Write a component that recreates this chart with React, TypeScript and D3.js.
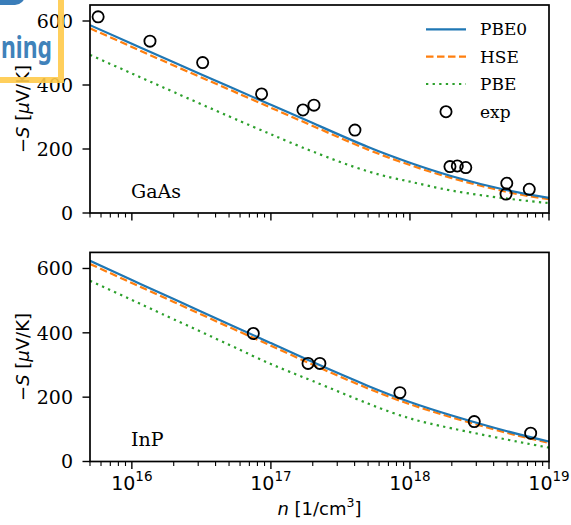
import React from 'react';
import * as d3 from 'd3';

// ---- data ----
const nGrid = [5e15, 1e16, 2e16, 5e16, 1e17, 2e17, 5e17, 1e18, 2e18, 5e18, 1e19];
const gaasPBE0 = [587, 529, 471, 395, 338, 281, 206, 157, 115, 71, 47];
const gaasHSE = [577, 519, 461, 386, 329, 272, 198, 150, 109, 66, 43];
const gaasPBE = [494, 436, 378, 302, 246, 192, 130, 98, 70, 45, 31];
const gaasExpN = [5.72e15, 1.35e16, 3.23e16, 8.57e16, 1.7e17, 2.04e17, 4.02e17, 1.94e18, 2.19e18, 2.52e18, 4.97e18, 4.91e18, 7.21e18];
const gaasExpS = [613, 537, 470, 372, 322, 337, 259, 145, 147, 142, 93, 59, 74];

const inpPBE0 = [624, 564, 505, 427, 368, 309, 235, 185, 143, 94, 62];
const inpHSE = [614, 555, 496, 418, 360, 301, 227, 178, 137, 89, 58];
const inpPBE = [562, 502, 442, 363, 303, 250, 180, 134, 103, 68, 43];
const inpExpN = [7.47e16, 1.85e17, 2.25e17, 8.47e17, 2.9e18, 7.38e18];
const inpExpS = [398, 305, 305, 214, 124, 88];

const yTicks = [0, 200, 400, 600];
const xMajor = [1e16, 1e17, 1e18, 1e19];
const xExponents = ['16', '17', '18', '19'];
const legendLabels = ['PBE0', 'HSE', 'PBE', 'exp'];

const C_BLUE = '#1f77b4';
const C_ORANGE = '#ff7f0e';
const C_GREEN = '#2ca02c';

const X0 = 90;
const X1 = 549;
const x = d3.scaleLog().domain([5e15, 1e19]).range([X0, X1]);

const minorTicks: number[] = [];
for (let e = 15; e <= 18; e++) {
  for (let m = 2; m <= 9; m++) {
    const v = m * Math.pow(10, e);
    if (v >= 5e15 && v <= 1e19) minorTicks.push(v);
  }
}

const serif = "'DejaVu Serif', serif";
const sans = "'DejaVu Sans', sans-serif";

type PanelProps = {
  id: string;
  top: number;
  bottom: number;
  pbe0: number[];
  hse: number[];
  pbe: number[];
  expN: number[];
  expS: number[];
  label: string;
  labelY: number;
  showXLabels: boolean;
  showLegend: boolean;
};

function Panel(p: PanelProps) {
  const y = d3.scaleLinear().domain([0, 650]).range([p.bottom, p.top]);
  const line = (vals: number[]) =>
    d3
      .line<number>()
      .x((_, i) => x(nGrid[i]))
      .y((v) => y(v))
      .curve(d3.curveNatural)(vals) || '';
  const clip = `clip-${p.id}`;
  const mid = (p.top + p.bottom) / 2;
  return (
    <g>
      <defs>
        <clipPath id={clip}>
          <rect x={X0} y={p.top} width={X1 - X0} height={p.bottom - p.top} />
        </clipPath>
      </defs>
      <g clipPath={`url(#${clip})`}>
        <path d={line(p.pbe)} fill="none" stroke={C_GREEN} strokeWidth={2.2} strokeDasharray="2.3,4.3" />
        <path d={line(p.hse)} fill="none" stroke={C_ORANGE} strokeWidth={2.2} strokeDasharray="7.5,3.5" />
        <path d={line(p.pbe0)} fill="none" stroke={C_BLUE} strokeWidth={2.2} />
      </g>
      {p.expN.map((n, i) => (
        <circle key={i} cx={x(n)} cy={y(p.expS[i])} r={5.6} fill="none" stroke="#000" strokeWidth={1.8} />
      ))}
      <rect x={X0} y={p.top} width={X1 - X0} height={p.bottom - p.top} fill="none" stroke="#000" strokeWidth={1.7} />
      {yTicks.map((t) => (
        <g key={t}>
          <line x1={X0 - 7.5} x2={X0} y1={y(t)} y2={y(t)} stroke="#000" strokeWidth={1.4} />
          <text x={73} y={y(t)} dy="0.36em" textAnchor="end" fontFamily={serif} fontSize={19}>
            {t}
          </text>
        </g>
      ))}
      {xMajor.map((t, i) => (
        <g key={t}>
          <line x1={x(t)} x2={x(t)} y1={p.bottom} y2={p.bottom + 7.5} stroke="#000" strokeWidth={1.4} />
          {p.showXLabels && (
            <text x={x(t)} y={490} textAnchor="middle" fontFamily={sans} fontSize={19}>
              10
              <tspan dy={-9} fontSize={13.5}>
                {xExponents[i]}
              </tspan>
            </text>
          )}
        </g>
      ))}
      {minorTicks.map((t) => (
        <line key={t} x1={x(t)} x2={x(t)} y1={p.bottom} y2={p.bottom + 4.5} stroke="#000" strokeWidth={1.1} />
      ))}
      <text x={131} y={p.labelY} fontFamily={serif} fontSize={19}>
        {p.label}
      </text>
      <text
        transform={`translate(29,${mid}) rotate(-90)`}
        textAnchor="middle"
        fontFamily={sans}
        fontSize={18}
      >
        −<tspan fontStyle="italic">S</tspan> [<tspan fontStyle="italic">μ</tspan>V/K]
      </text>
      {p.showLegend && (
        <g>
          {[29.3, 56.7, 84, 111.7].map((ly, i) => (
            <g key={i}>
              {i === 0 && <line x1={426} x2={466} y1={ly} y2={ly} stroke={C_BLUE} strokeWidth={2.2} />}
              {i === 1 && (
                <line x1={426} x2={466} y1={ly} y2={ly} stroke={C_ORANGE} strokeWidth={2.2} strokeDasharray="7.5,3.5" />
              )}
              {i === 2 && (
                <line x1={426} x2={466} y1={ly} y2={ly} stroke={C_GREEN} strokeWidth={2.2} strokeDasharray="2.3,4.3" />
              )}
              {i === 3 && <circle cx={446} cy={ly} r={5.6} fill="none" stroke="#000" strokeWidth={1.8} />}
              <text x={480} y={ly} dy="0.36em" fontFamily={serif} fontSize={17}>
                {legendLabels[i]}
              </text>
            </g>
          ))}
        </g>
      )}
    </g>
  );
}

export default function App() {
  return (
    <svg
      width={571}
      height={525}
      style={{ position: 'absolute', left: 0, top: 0, background: '#fff' }}
    >
      <rect width={571} height={525} fill="#fff" />
      <Panel
        id="gaas"
        top={5}
        bottom={213}
        pbe0={gaasPBE0}
        hse={gaasHSE}
        pbe={gaasPBE}
        expN={gaasExpN}
        expS={gaasExpS}
        label="GaAs"
        labelY={198}
        showXLabels={false}
        showLegend={true}
      />
      <Panel
        id="inp"
        top={252.4}
        bottom={461.5}
        pbe0={inpPBE0}
        hse={inpHSE}
        pbe={inpPBE}
        expN={inpExpN}
        expS={inpExpS}
        label="InP"
        labelY={446}
        showXLabels={true}
        showLegend={false}
      />
      <text x={319.5} y={515} textAnchor="middle" fontFamily={sans} fontSize={18}>
        <tspan fontStyle="italic">n</tspan> [1/cm
        <tspan dy={-8} fontSize={12.5}>
          3
        </tspan>
        <tspan dy={8}>]</tspan>
      </text>
      {/* overlay logo fragment */}
      <rect x={-40} y={-30} width={65} height={35} rx={10} fill="#3a7db9" />
      <text
        x={1}
        y={58}
        fontFamily="'Noto Sans', sans-serif"
        fontWeight="bold"
        fontSize={30}
        fill="#3f82ba"
        textLength={51}
        lengthAdjust="spacingAndGlyphs"
      >
        ning
      </text>
      <path d="M61,0 V80 H0" fill="none" stroke="#ffca4a" strokeWidth={6} opacity={0.9} />
    </svg>
  );
}
